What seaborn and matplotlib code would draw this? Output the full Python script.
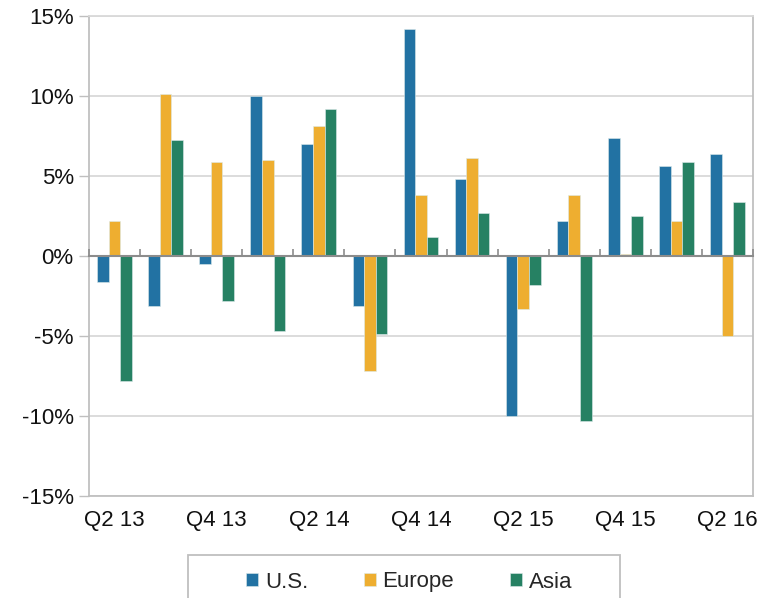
import numpy as np
import pandas as pd
import matplotlib
matplotlib.use("Agg")
import matplotlib.pyplot as plt
import seaborn as sns
from matplotlib.patches import Rectangle

quarters = ["Q2 13", "Q3 13", "Q4 13", "Q1 14", "Q2 14", "Q3 14", "Q4 14",
            "Q1 15", "Q2 15", "Q3 15", "Q4 15", "Q1 16", "Q2 16"]
us =     [-1.6, -3.1, -0.5, 10.0, 7.0, -3.1, 14.2, 4.8, -10.0, 2.2, 7.4, 5.6, 6.4]
europe = [2.2, 10.1, 5.9, 6.0, 8.1, -7.2, 3.8, 6.1, -3.3, 3.8, 0.1, 2.2, -5.0]
asia =   [-7.8, 7.25, -2.8, -4.7, 9.2, -4.9, 1.2, 2.7, -1.8, -10.3, 2.5, 5.9, 3.4]
series = ["U.S.", "Europe", "Asia"]
colors = ["#2272A3", "#EEAE30", "#268163"]
yticks = [-15, -10, -5, 0, 5, 10, 15]
ytick_labels = ["-15%", "-10%", "-5%", "0%", "5%", "10%", "15%"]
xtick_labels = ["Q2 13", "Q4 13", "Q2 14", "Q4 14", "Q2 15", "Q4 15", "Q2 16"]

df = pd.DataFrame({
    "quarter": quarters * 3,
    "value": us + europe + asia,
    "region": [s for s in series for _ in quarters],
})

sns.set_theme(style="white")
plt.rcParams["font.family"] = ["Liberation Sans", "DejaVu Sans"]
FS = 16

fig = plt.figure(figsize=(7.63, 5.98), dpi=100)
ax = fig.add_axes([89/763, 1-496/598, 664/763, 480/598])

sns.barplot(data=df, x="quarter", y="value", hue="region", order=quarters,
            hue_order=series, palette=colors, width=0.68, ax=ax,
            edgecolor="#DCEAEA", linewidth=0.4, saturation=1, legend=True)

ax.set_xlim(-0.5, len(quarters) - 0.5)
ax.set_ylim(-15, 15)
ax.set_yticks(yticks)
ax.set_yticklabels(ytick_labels, fontsize=FS, color="#111111")
ax.set_xticks([quarters.index(q) for q in xtick_labels])
ax.set_xticklabels(xtick_labels, fontsize=FS, color="#111111")
ax.set_xlabel("")
ax.set_ylabel("")
ax.tick_params(axis="x", length=0, pad=10)
ax.tick_params(axis="y", length=7, width=1, color="#BFBFBF", pad=4, left=True)

for v in yticks:
    if v != 0:
        ax.axhline(v, color="#D9D9D9", lw=1.3, zorder=0)
for side in ["left", "right", "bottom", "top"]:
    ax.spines[side].set_visible(True)
    ax.spines[side].set_color("#C0C0C0")
    ax.spines[side].set_linewidth(1.3)
ax.spines["top"].set_color("#D9D9D9")

# zero axis with category boundary ticks
sec = ax.secondary_xaxis(0.5)
sec.set_xticks(np.arange(-0.5, len(quarters), 1.0))
sec.set_xticklabels([])
sec.tick_params(axis="x", direction="out", length=5, width=1.2, color="#8C8C8C")
for s in sec.spines.values():
    s.set_color("#8C8C8C")
    s.set_linewidth(1.5)
sec.set_zorder(5)

handles, labels = ax.get_legend_handles_labels()
ax.get_legend().remove()
fig.legend(handles, labels, loc="center", bbox_to_anchor=(409/763, 1-582/598),
           ncol=3, frameon=False, fontsize=FS, handlelength=0.55,
           handleheight=0.55, handletextpad=0.3, columnspacing=2.5)
fig.patches.append(Rectangle((188/763, -0.05), 432/763, 0.05 + (1-555/598),
                             transform=fig.transFigure, fill=False,
                             edgecolor="#BFBFBF", lw=1.3))

fig.savefig("out.png", dpi=100)
